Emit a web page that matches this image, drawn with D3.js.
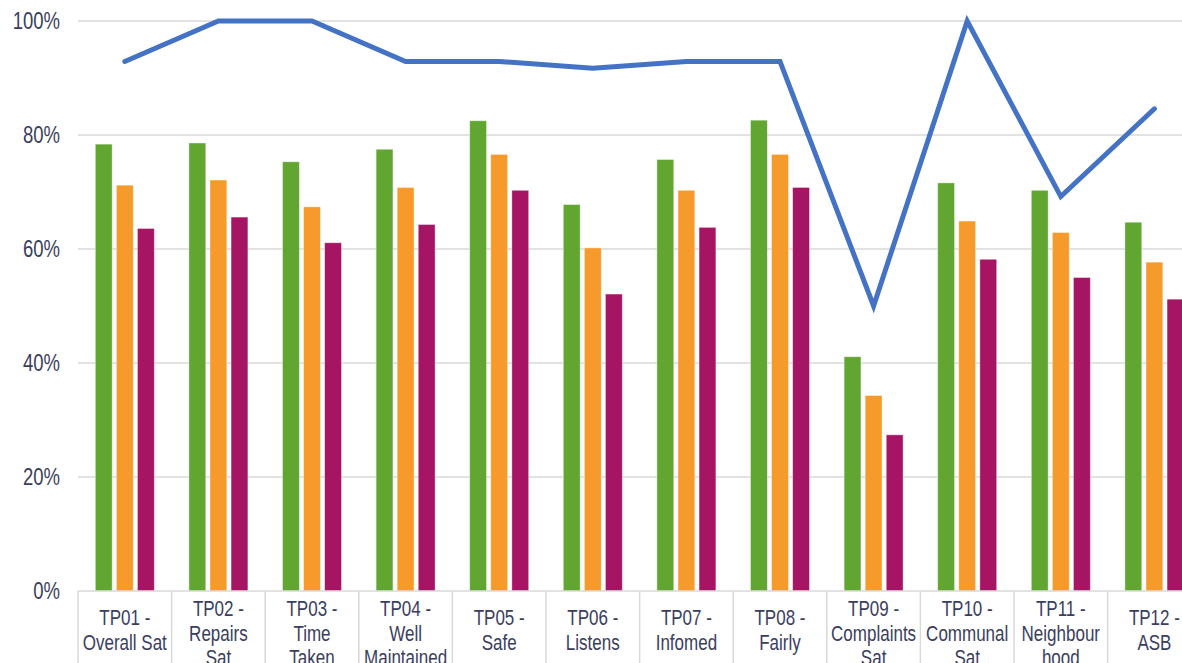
<!DOCTYPE html>
<html>
<head>
<meta charset="utf-8">
<script src="https://cdn.jsdelivr.net/npm/d3@7"></script>
<style>
	body { margin: 0; background: #fff; }
	svg { display: block; font-family: "Liberation Sans", Arial, sans-serif; }
</style>
</head>
<body>
<svg width="1182" height="663"></svg>
<script>
var categories = ["TP01 -\nOverall Sat", "TP02 -\nRepairs\nSat", "TP03 -\nTime\nTaken", "TP04 -\nWell\nMaintained",
	"TP05 -\nSafe", "TP06 -\nListens", "TP07 -\nInfomed", "TP08 -\nFairly",
	"TP09 -\nComplaints\nSat", "TP10 -\nCommunal\nSat", "TP11 -\nNeighbour\nhood", "TP12 -\nASB"];
var greenValues = [78.4, 78.6, 75.3, 77.5, 82.5, 67.8, 75.7, 82.6, 41.1, 71.6, 70.3, 64.7];
var orangeValues = [71.2, 72.1, 67.4, 70.8, 76.6, 60.2, 70.3, 76.6, 34.3, 64.9, 62.9, 57.7];
var purpleValues = [63.6, 65.6, 61.1, 64.3, 70.3, 52.1, 63.8, 70.8, 27.4, 58.2, 55.0, 51.2];
var lineValues = [92.9, 100, 100, 92.9, 92.9, 91.7, 92.9, 92.9, 50, 100, 69.2, 84.6];
var yTicks = [0, 20, 40, 60, 80, 100];

var series = [
	{name: "green", color: "#62a632", values: greenValues},
	{name: "orange", color: "#f59a2b", values: orangeValues},
	{name: "purple", color: "#a51564", values: purpleValues}
];

var svg = d3.select("svg"),
	plotLeft = 78,
	bandW = 93.6,
	plotTop = 21,
	plotBottom = 591,
	textColor = "#3a3e5e";

var x = d3.scaleBand()
	.domain(categories)
	.range([plotLeft, plotLeft + bandW * categories.length]);
var x1 = d3.scaleBand()
	.domain(series.map(function(s) { return s.name; }))
	.range([-29.5, 29.5])
	.paddingInner(0.2);
var y = d3.scaleLinear()
	.domain([0, 100])
	.range([plotBottom, plotTop]);

// gridlines
svg.append("g")
	.selectAll("line")
	.data(yTicks.slice(1))
	.enter().append("line")
	.attr("x1", plotLeft)
	.attr("x2", 1182)
	.attr("y1", function(d) { return y(d); })
	.attr("y2", function(d) { return y(d); })
	.attr("stroke", "#d9d9d9")
	.attr("stroke-width", 1.5);

// y labels
svg.append("g")
	.selectAll("text")
	.data(yTicks)
	.enter().append("text")
	.attr("transform", function(d) { return "translate(60," + (y(d) + 8) + ") scale(1,1.25)"; })
	.attr("text-anchor", "end")
	.attr("font-size", 18.5)
	.attr("fill", textColor)
	.text(function(d) { return d + "%"; });

// bars
var groups = svg.append("g")
	.selectAll("g")
	.data(categories)
	.enter().append("g")
	.attr("transform", function(d) { return "translate(" + (x(d) + x.bandwidth() / 2) + ",0)"; });

groups.selectAll("rect")
	.data(function(d, i) { return series.map(function(s) { return {name: s.name, color: s.color, v: s.values[i]}; }); })
	.enter().append("rect")
	.attr("x", function(d) { return x1(d.name); })
	.attr("width", x1.bandwidth())
	.attr("y", function(d) { return y(d.v); })
	.attr("height", function(d) { return plotBottom - y(d.v); })
	.attr("fill", function(d) { return d.color; })
	.attr("stroke", "#ffffff")
	.attr("stroke-opacity", 0.5)
	.attr("stroke-width", 0.8);

// x axis line and separators
svg.append("line")
	.attr("x1", plotLeft)
	.attr("x2", 1182)
	.attr("y1", plotBottom)
	.attr("y2", plotBottom)
	.attr("stroke", "#d9d9d9")
	.attr("stroke-width", 1.5);

svg.append("g")
	.selectAll("line")
	.data(categories)
	.enter().append("line")
	.attr("x1", function(d) { return x(d); })
	.attr("x2", function(d) { return x(d); })
	.attr("y1", plotBottom)
	.attr("y2", 663)
	.attr("stroke", "#d9d9d9")
	.attr("stroke-width", 1.5);

// category labels (the third line runs off the bottom, as in the original)
var labels = svg.append("g")
	.selectAll("g")
	.data(categories)
	.enter().append("g");

labels.each(function(d) {
	var lines = d.split("\n"),
		cx = x(d) + x.bandwidth() / 2,
		first = 625 - (lines.length - 2) * 9;
	d3.select(this).selectAll("text")
		.data(lines)
		.enter().append("text")
		.attr("transform", function(t, j) { return "translate(" + cx + "," + (first + j * 24.5) + ") scale(1,1.33)"; })
		.attr("text-anchor", "middle")
		.attr("font-size", 17)
		.attr("fill", textColor)
		.text(function(t) { return t; });
});

// line series
var line = d3.line()
	.x(function(d, i) { return x(categories[i]) + x.bandwidth() / 2; })
	.y(function(d) { return y(d); });

svg.append("path")
	.datum(lineValues)
	.attr("d", line)
	.attr("fill", "none")
	.attr("stroke", "#4472c4")
	.attr("stroke-width", 5)
	.attr("stroke-linecap", "round")
	.attr("stroke-linejoin", "miter")
	.attr("stroke-miterlimit", 4);
</script>
</body>
</html>
